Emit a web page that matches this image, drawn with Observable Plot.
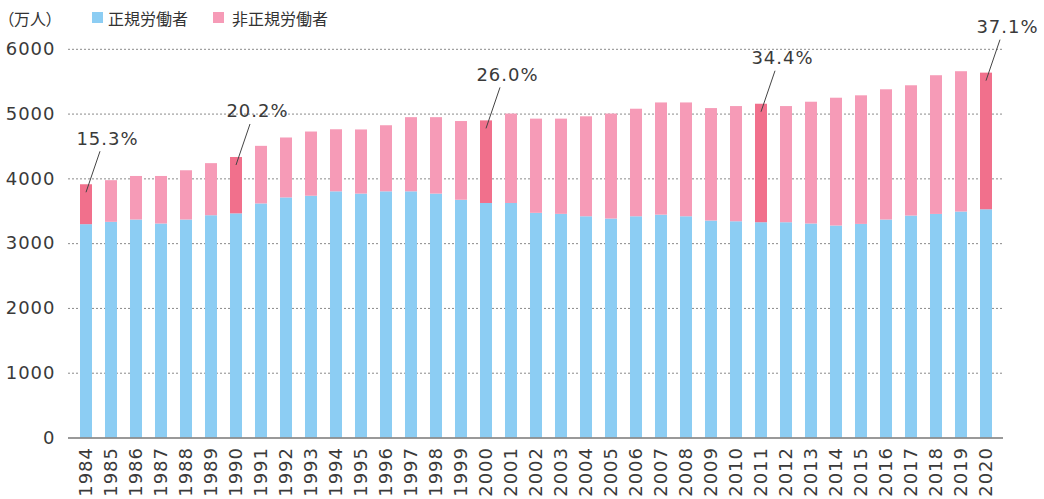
<!DOCTYPE html>
<html><head><meta charset="utf-8">
<script src="https://cdn.jsdelivr.net/npm/d3@7"></script>
<script src="https://cdn.jsdelivr.net/npm/@observablehq/plot@0.6"></script>
<style>
body{margin:0;background:#fff;position:relative;}
#legend{position:absolute;left:0;top:0;width:400px;height:34px;font-family:"Noto Sans CJK JP",sans-serif;font-size:16px;color:#333;font-feature-settings:"palt";z-index:2;}
#legend span{position:absolute;top:6px;line-height:24px;white-space:nowrap;}
#legend i{position:absolute;top:12px;width:11px;height:11px;display:block;}
#chart svg text{letter-spacing:1px;}
</style></head><body>
<div id="legend"></div>
<div id="chart"></div>
<script>
const years = ["1984","1985","1986","1987","1988","1989","1990","1991","1992","1993","1994","1995","1996","1997","1998","1999","2000","2001","2002","2003","2004","2005","2006","2007","2008","2009","2010","2011","2012","2013","2014","2015","2016","2017","2018","2019","2020"];
const regular = [3293,3329,3365,3303,3365,3431,3460,3613,3706,3732,3800,3765,3800,3800,3765,3670,3620,3620,3468,3452,3415,3380,3415,3440,3415,3349,3338,3323,3323,3303,3272,3297,3365,3426,3451,3488,3523];
const nonRegular = [616,643,672,734,760,804,870,889,925,991,958,990,1020,1145,1180,1215,1275,1380,1454,1470,1543,1620,1660,1732,1757,1736,1778,1829,1793,1880,1973,1985,2010,2011,2141,2166,2109];
const highlightYears = ["1984","1990","2000","2011","2020"];
const highlightLabels = ["15.3%","20.2%","26.0%","34.4%","37.1%"];
const yTicks = [0,1000,2000,3000,4000,5000,6000];
const seriesNames = ["正規労働者","非正規労働者"];
const unitLabel = "（万人）";
const blue = "#8ccdf3", pink = "#f69bb7", pinkDark = "#f1708c";

// legend
const lg = document.getElementById("legend");
lg.innerHTML = `<span style="left:6px">${unitLabel}</span>
<i style="left:92px;background:${blue}"></i><span style="left:108px">${seriesNames[0]}</span>
<i style="left:213px;background:${pink}"></i><span style="left:232px">${seriesNames[1]}</span>`;

const rows = years.flatMap((y, i) => [
  {year: y, type: seriesNames[0], value: regular[i], hl: highlightYears.includes(y)},
  {year: y, type: seriesNames[1], value: nonRegular[i], hl: highlightYears.includes(y)}
]);
const fillOf = d => d.type === seriesNames[0] ? blue : (d.hl ? pinkDark : pink);
const labelRows = highlightYears.map((y, k) => {
  const i = years.indexOf(y);
  return {year: y, total: regular[i] + nonRegular[i], label: highlightLabels[k]};
});

const plot = Plot.plot({
  width: 1044, height: 499,
  marginLeft: 68, marginRight: 41, marginTop: 48.8, marginBottom: 61.5,
  x: {domain: years, paddingInner: 0.53, paddingOuter: 0.26, label: null, tickSize: 0, tickPadding: 9, tickRotate: -90},
  y: {domain: [0, 6000], ticks: yTicks, tickFormat: d3.format("d"), label: null, tickSize: 0, tickPadding: 13},
  color: {type: "identity"},
  style: {fontFamily: "DejaVu Sans", fontSize: "18px", color: "#3a3a3a", background: "#fff", overflow: "visible"},
  marks: [
    Plot.ruleY(yTicks.slice(1), {stroke: "#8a8a8a", strokeDasharray: "2,2", strokeWidth: 1}),
    Plot.barY(rows, {x: "year", y: "value", fill: fillOf, z: "type"}),
    Plot.ruleY([0], {stroke: "#777", strokeWidth: 1.5}),
    Plot.text(labelRows, {x: "year", y: "total", text: "label", dx: 21, dy: -46, fill: "#3a3a3a", fontSize: 18})
  ]
});
document.getElementById("chart").appendChild(plot);

// leader lines from labels to highlighted bars
const xs = plot.scale("x"), ys = plot.scale("y");
const g = d3.select(plot).append("g").attr("stroke", "#444").attr("stroke-width", 1);
labelRows.forEach(d => {
  const cx = xs.apply(d.year) + xs.bandwidth / 2;
  const cy = ys.apply(d.total);
  g.append("line").attr("x1", cx + 14).attr("y1", cy - 33).attr("x2", cx).attr("y2", cy + 8);
});
</script>
</body></html>
